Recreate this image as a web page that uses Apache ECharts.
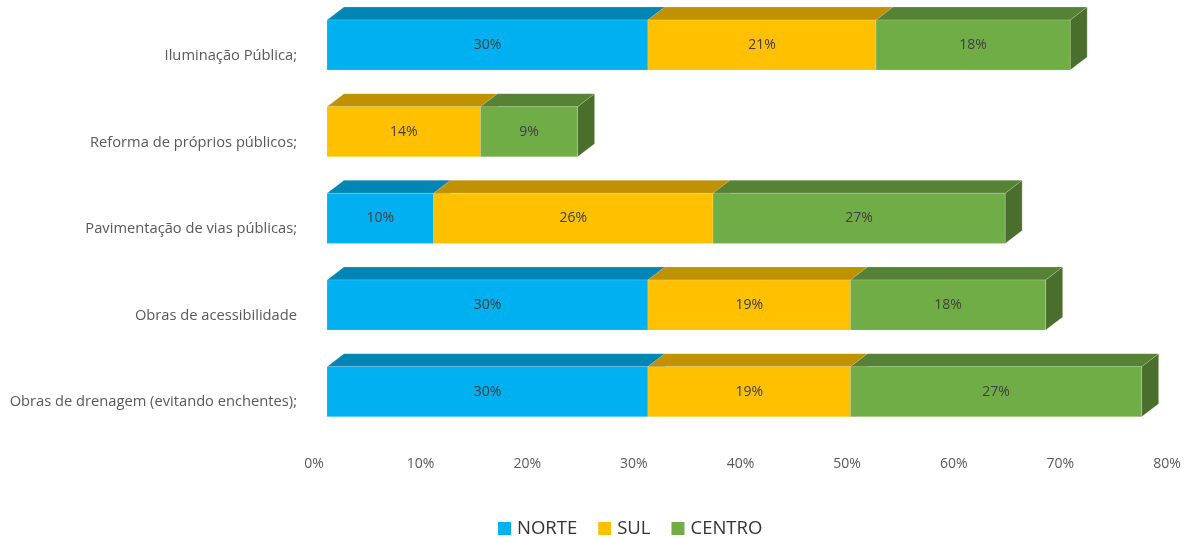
<!DOCTYPE html>
<html><head><meta charset="utf-8">
<script src="https://cdn.jsdelivr.net/npm/echarts@6/dist/echarts.min.js"></script>
<style>html,body{margin:0;padding:0;background:#fff}#c{width:1190px;height:539px}</style>
</head><body><div id="c"></div>
<script>
var categories = ["Iluminação Pública;", "Reforma de próprios públicos;", "Pavimentação de vias públicas;", "Obras de acessibilidade", "Obras de drenagem (evitando enchentes);"];
var norte  = [30.1, 0, 10.0, 30.1, 30.1];
var sul    = [21.4, 14.4, 26.2, 19.0, 19.0];
var centro = [18.2, 9.1, 27.4, 18.3, 27.3];
var seriesNames = ["NORTE", "SUL", "CENTRO"];
var xTicks = [0, 10, 20, 30, 40, 50, 60, 70, 80];

var FONT = '"Open Sans", "Liberation Sans", Arial, sans-serif';
var DX = 17, DY = -13;
var palette = [
  {front:'#00B0F0', top:'#0085B5', side:'#00739C'},
  {front:'#FFC000', top:'#C09100', side:'#A67C00'},
  {front:'#70AD47', top:'#558234', side:'#4A6F2C'}
];
var values = [norte, sul, centro];
var cum = categories.map(function(){return 0;});
var seriesData = values.map(function(arr){
  return arr.map(function(v, i){
    var s = cum[i]; cum[i] += v;
    return [i, s, s + v, v];
  });
});

function makeRender(col){
  return function(params, api){
    var v = api.value(3);
    if (!v) return null;
    var cat = api.value(0), s = api.value(1), e = api.value(2);
    var p0 = api.coord([s, cat]), p1 = api.coord([e, cat]);
    var band = api.size([0, 1])[1];
    var h = band * 0.578;
    var x0 = p0[0], x1 = p1[0], y0 = p0[1] - h / 2, y1 = p0[1] + h / 2;
    var edge = 'rgba(255,255,255,0.35)';
    return {type:'group', children:[
      {type:'polygon', shape:{points:[[x1,y0],[x1+DX,y0+DY],[x1+DX,y1+DY],[x1,y1]]}, style:{fill:col.side, stroke:edge, lineWidth:0.5}},
      {type:'polygon', shape:{points:[[x0,y0],[x0+DX,y0+DY],[x1+DX,y0+DY],[x1,y0]]}, style:{fill:col.top, stroke:edge, lineWidth:0.5}},
      {type:'rect', shape:{x:x0, y:y0, width:x1-x0, height:y1-y0}, style:{fill:col.front, stroke:edge, lineWidth:0.5}},
      {type:'text', style:{text: Math.round(v) + '%', x:(x0+x1)/2, y:(y0+y1)/2, align:'center', verticalAlign:'middle', fill:'#404040', font:'14px ' + FONT}}
    ]};
  };
}

var chart = echarts.init(document.getElementById('c'), null, {renderer:'canvas'});
chart.setOption({
  animation:false,
  backgroundColor:'#ffffff',
  textStyle:{fontFamily:FONT},
  grid:[
    {left:314, right:23, top:12.7, height:432.6},
    {left:327, right:10, top:1.7, height:433.3}
  ],
  xAxis:[
    {gridIndex:0, type:'value', min:0, max:80, interval:10,
     axisLine:{show:false}, axisTick:{show:false}, splitLine:{show:false},
     axisLabel:{formatter:'{value}%', color:'#595959', fontSize:14, margin:12, fontFamily:FONT}},
    {gridIndex:1, type:'value', min:0, max:80, interval:10, show:false, splitLine:{show:false}}
  ],
  yAxis:[
    {gridIndex:0, type:'category', data:categories, inverse:true,
     axisLine:{show:false}, axisTick:{show:false}, splitLine:{show:false},
     axisLabel:{color:'#595959', fontSize:14.7, margin:17, fontFamily:FONT}},
    {gridIndex:1, type:'category', data:categories, inverse:true, show:false}
  ],
  legend:{top:514, left:493, itemWidth:13, itemHeight:13, itemGap:21,
    icon:'rect', data:seriesNames,
    textStyle:{color:'#333333', fontSize:18.5, fontFamily:FONT, padding:[0,0,0,1]}},
  series: seriesNames.map(function(n, k){
    return {name:n, type:'custom', xAxisIndex:1, yAxisIndex:1,
      itemStyle:{color:palette[k].front},
      renderItem:makeRender(palette[k]),
      encode:{x:[1,2], y:0},
      data:seriesData[k]};
  })
});
</script></body></html>
